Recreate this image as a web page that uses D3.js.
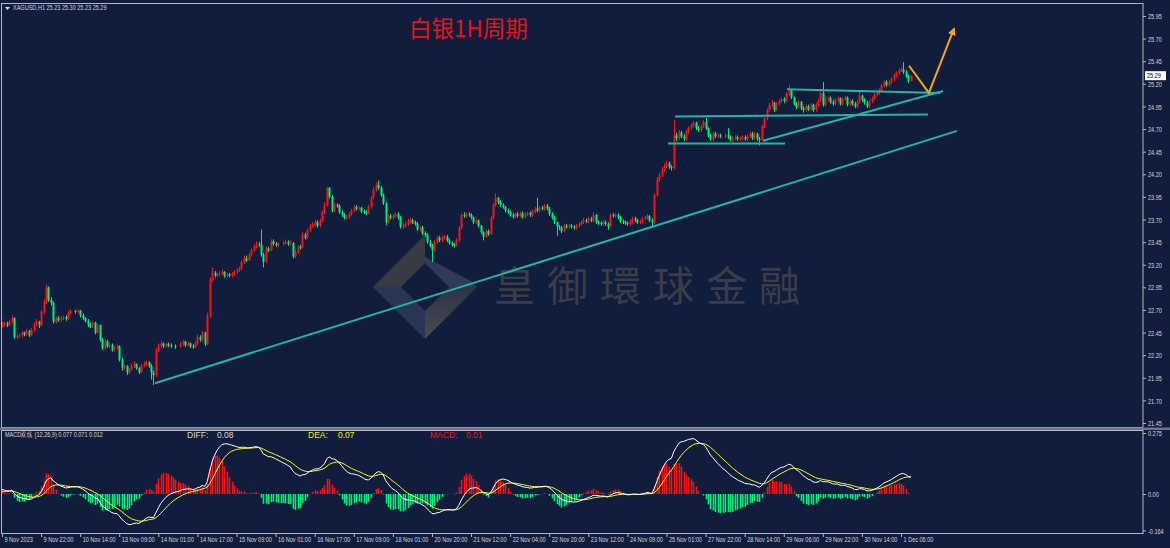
<!DOCTYPE html>
<html>
<head>
<meta charset="utf-8">
<script src="https://cdn.jsdelivr.net/npm/d3@7"></script>
<style>
  body { margin: 0; background: #101d3d; }
  svg { display: block; }
  .small { font-family: 'Liberation Sans', Arial, sans-serif; font-size: 7.5px; fill: #d8d8d8;
           transform-box: fill-box; transform-origin: 0 50%; transform: scaleX(0.74); }
</style>
</head>
<body>
<svg id="chart" width="1170" height="548"></svg>
<script>
// XAGUSD H1, 9 Nov 2023 -> 1 Dec 2023
const symbol = 'XAGUSD,H1';
const firstOpen = 22.52;

const closes = [
  22.54,22.55,22.53,22.57,22.61,22.40,22.41,22.42,22.45,22.43,
  22.47,22.42,22.48,22.54,22.57,22.53,22.68,22.79,22.95,22.81,
  22.78,22.57,22.61,22.59,22.61,22.62,22.60,22.67,22.69,22.69,
  22.68,22.69,22.64,22.61,22.58,22.53,22.52,22.56,22.45,22.53,
  22.37,22.28,22.35,22.30,22.31,22.26,22.28,22.30,22.15,22.06,
  22.08,22.01,22.04,22.08,22.10,22.06,22.01,22.09,22.10,22.12,
  22.08,22.01,21.98,22.26,22.30,22.33,22.30,22.32,22.31,22.30,
  22.30,22.29,22.29,22.32,22.35,22.31,22.33,22.30,22.29,22.33,
  22.40,22.37,22.45,22.32,22.64,23.03,23.11,23.08,23.09,23.10,
  23.12,23.08,23.09,23.08,23.10,23.12,23.14,23.16,23.23,23.27,
  23.25,23.31,23.36,23.40,23.43,23.42,23.31,23.23,23.38,23.36,
  23.46,23.43,23.42,23.43,23.43,23.44,23.45,23.43,23.44,23.29,
  23.34,23.40,23.39,23.53,23.50,23.58,23.63,23.64,23.67,23.63,
  23.69,23.78,23.86,24.05,23.95,23.80,23.86,23.85,23.78,23.75,
  23.72,23.73,23.76,23.80,23.84,23.82,23.83,23.79,23.78,23.77,
  23.84,23.94,24.03,24.08,24.05,23.97,23.88,23.67,23.74,23.72,
  23.74,23.76,23.72,23.62,23.63,23.65,23.68,23.69,23.67,23.65,
  23.59,23.61,23.55,23.53,23.45,23.41,23.36,23.45,23.50,23.47,
  23.50,23.51,23.47,23.44,23.42,23.41,23.47,23.61,23.75,23.74,
  23.76,23.75,23.72,23.67,23.69,23.63,23.56,23.51,23.57,23.54,
  23.72,23.86,23.94,23.89,23.86,23.84,23.80,23.78,23.75,23.73,
  23.76,23.74,23.77,23.73,23.76,23.77,23.75,23.79,23.82,23.80,
  23.83,23.82,23.85,23.82,23.76,23.72,23.67,23.62,23.61,23.57,
  23.63,23.62,23.63,23.62,23.61,23.63,23.65,23.67,23.69,23.68,
  23.71,23.69,23.75,23.67,23.66,23.65,23.67,23.65,23.62,23.75,
  23.74,23.75,23.72,23.68,23.67,23.66,23.65,23.68,23.71,23.69,
  23.67,23.68,23.71,23.72,23.74,23.69,23.67,23.97,24.14,24.19,
  24.25,24.29,24.32,24.28,24.27,24.63,24.60,24.66,24.62,24.59,
  24.67,24.71,24.74,24.77,24.71,24.69,24.73,24.78,24.71,24.63,
  24.59,24.65,24.62,24.63,24.62,24.62,24.63,24.61,24.58,24.60,
  24.61,24.59,24.60,24.61,24.59,24.62,24.65,24.60,24.65,24.59,
  24.58,24.73,24.82,24.91,24.97,24.99,24.91,24.98,25.01,25.03,
  25.01,25.09,25.13,25.05,24.98,24.94,25.00,24.93,24.91,24.95,
  24.92,24.97,24.91,24.97,25.02,25.10,24.97,25.03,25.04,25.00,
  24.98,25.02,25.04,24.98,25.03,25.05,24.97,25.01,24.98,24.95,
  25.00,25.07,25.02,24.99,24.95,25.01,25.04,25.08,25.10,25.13,
  25.18,25.22,25.19,25.22,25.25,25.29,25.32,25.35,25.36,25.33,
  25.28,25.23,25.29
];

const highs = [
  22.57,22.57,22.57,22.59,22.64,22.62,22.43,22.44,22.47,22.46,
  22.49,22.48,22.50,22.56,22.60,22.58,22.70,22.82,22.98,22.96,
  22.84,22.79,22.63,22.63,22.63,22.64,22.64,22.69,22.71,22.71,
  22.70,22.71,22.70,22.66,22.62,22.60,22.56,22.58,22.57,22.55,
  22.54,22.39,22.37,22.37,22.34,22.33,22.30,22.32,22.31,22.17,
  22.10,22.09,22.06,22.11,22.13,22.11,22.07,22.11,22.13,22.14,
  22.13,22.10,22.03,22.28,22.33,22.36,22.34,22.34,22.34,22.33,
  22.32,22.32,22.31,22.35,22.37,22.36,22.35,22.34,22.32,22.35,
  22.43,22.42,22.47,22.46,22.67,23.06,23.17,23.13,23.11,23.13,
  23.15,23.13,23.11,23.11,23.12,23.14,23.16,23.18,23.25,23.30,
  23.30,23.33,23.38,23.42,23.46,23.45,23.59,23.33,23.40,23.40,
  23.48,23.48,23.45,23.45,23.45,23.46,23.48,23.47,23.47,23.45,
  23.36,23.42,23.42,23.56,23.55,23.60,23.65,23.67,23.70,23.69,
  23.71,23.80,23.89,24.06,24.06,23.97,23.89,23.88,23.87,23.80,
  23.77,23.75,23.78,23.82,23.86,23.86,23.85,23.84,23.81,23.80,
  23.86,23.96,24.06,24.11,24.13,24.07,23.99,23.89,23.76,23.76,
  23.76,23.78,23.78,23.74,23.66,23.68,23.71,23.72,23.71,23.69,
  23.67,23.63,23.63,23.57,23.55,23.47,23.43,23.47,23.52,23.52,
  23.52,23.53,23.53,23.49,23.46,23.44,23.49,23.63,23.77,23.78,
  23.78,23.78,23.77,23.73,23.71,23.70,23.64,23.57,23.59,23.59,
  23.74,23.88,23.99,23.95,23.91,23.88,23.85,23.82,23.80,23.77,
  23.78,23.78,23.79,23.79,23.78,23.79,23.79,23.81,23.84,23.94,
  23.85,23.85,23.87,23.87,23.84,23.78,23.74,23.68,23.64,23.63,
  23.65,23.65,23.65,23.65,23.64,23.65,23.67,23.69,23.72,23.71,
  23.73,23.73,23.78,23.76,23.69,23.68,23.69,23.69,23.67,23.77,
  23.77,23.77,23.77,23.74,23.70,23.69,23.68,23.70,23.73,23.73,
  23.71,23.70,23.73,23.74,23.76,23.75,23.71,23.99,24.17,24.22,
  24.28,24.32,24.35,24.34,24.30,24.80,24.66,24.69,24.68,24.64,
  24.69,24.73,24.76,24.79,24.78,24.73,24.75,24.80,24.82,24.72,
  24.65,24.67,24.67,24.65,24.65,24.64,24.65,24.71,24.63,24.62,
  24.63,24.63,24.62,24.63,24.63,24.64,24.67,24.67,24.67,24.66,
  24.61,24.75,24.84,24.93,24.99,25.02,25.00,25.00,25.03,25.05,
  25.05,25.11,25.19,25.14,25.06,25.00,25.02,25.01,24.95,24.97,
  24.97,24.99,24.98,24.99,25.04,25.12,25.22,25.05,25.06,25.06,
  25.02,25.04,25.06,25.05,25.05,25.07,25.06,25.03,25.03,25.00,
  25.02,25.11,25.08,25.04,25.01,25.03,25.06,25.10,25.12,25.15,
  25.20,25.24,25.24,25.24,25.27,25.31,25.34,25.37,25.39,25.44,
  25.35,25.30,25.30
];

const lows = [
  22.50,22.52,22.51,22.52,22.55,22.38,22.38,22.39,22.40,22.41,
  22.42,22.40,22.41,22.46,22.52,22.50,22.52,22.66,22.77,22.79,
  22.75,22.55,22.55,22.57,22.57,22.59,22.58,22.59,22.65,22.67,
  22.66,22.66,22.62,22.59,22.56,22.51,22.50,22.50,22.43,22.44,
  22.35,22.26,22.26,22.28,22.28,22.24,22.24,22.26,22.13,22.03,
  22.04,21.98,21.99,22.03,22.06,22.04,21.99,22.00,22.07,22.08,
  22.06,21.93,21.87,21.96,22.24,22.28,22.28,22.28,22.29,22.28,
  22.28,22.27,22.27,22.28,22.30,22.29,22.29,22.28,22.27,22.28,
  22.31,22.35,22.35,22.30,22.31,22.62,23.01,23.06,23.06,23.07,
  23.08,23.06,23.06,23.06,23.06,23.08,23.10,23.12,23.14,23.21,
  23.23,23.24,23.29,23.34,23.38,23.40,23.29,23.17,23.22,23.34,
  23.35,23.41,23.40,23.40,23.41,23.41,23.42,23.41,23.41,23.27,
  23.27,23.32,23.37,23.38,23.48,23.48,23.56,23.61,23.62,23.61,
  23.61,23.67,23.76,23.84,23.93,23.78,23.78,23.83,23.76,23.73,
  23.70,23.70,23.71,23.74,23.78,23.80,23.80,23.77,23.76,23.75,
  23.76,23.82,23.92,24.01,24.03,23.95,23.86,23.64,23.66,23.70,
  23.70,23.72,23.70,23.60,23.60,23.61,23.63,23.66,23.65,23.63,
  23.57,23.57,23.53,23.51,23.43,23.39,23.23,23.34,23.43,23.45,
  23.45,23.48,23.45,23.42,23.40,23.39,23.40,23.45,23.59,23.72,
  23.72,23.73,23.70,23.65,23.65,23.61,23.54,23.47,23.50,23.52,
  23.53,23.70,23.84,23.87,23.84,23.82,23.78,23.76,23.73,23.71,
  23.71,23.72,23.72,23.71,23.71,23.74,23.73,23.73,23.77,23.78,
  23.78,23.80,23.80,23.80,23.74,23.70,23.65,23.52,23.58,23.55,
  23.56,23.60,23.60,23.60,23.59,23.59,23.61,23.63,23.65,23.66,
  23.66,23.67,23.67,23.65,23.64,23.63,23.63,23.63,23.59,23.61,
  23.72,23.72,23.70,23.66,23.65,23.64,23.63,23.63,23.66,23.67,
  23.65,23.65,23.66,23.69,23.70,23.67,23.61,23.65,23.95,24.12,
  24.17,24.23,24.27,24.26,24.24,24.25,24.57,24.58,24.60,24.57,
  24.57,24.65,24.69,24.72,24.69,24.67,24.67,24.71,24.69,24.61,
  24.57,24.57,24.60,24.60,24.60,24.60,24.60,24.59,24.56,24.56,
  24.58,24.57,24.57,24.58,24.57,24.57,24.60,24.58,24.58,24.57,
  24.52,24.57,24.71,24.80,24.89,24.95,24.89,24.90,24.96,24.99,
  24.99,25.00,25.07,25.03,24.96,24.92,24.93,24.91,24.88,24.89,
  24.90,24.90,24.89,24.89,24.95,25.00,24.95,24.95,25.01,24.98,
  24.96,24.96,25.00,24.96,24.96,25.01,24.95,24.95,24.96,24.93,
  24.93,24.98,25.00,24.97,24.93,24.93,24.99,25.02,25.06,25.08,
  25.11,25.16,25.17,25.17,25.20,25.23,25.27,25.30,25.33,25.31,
  25.26,25.21,25.23
];

// time axis: one label every 16 bars
const timeLabels = [
  '9 Nov 2023', '9 Nov 22:00', '10 Nov 14:00', '13 Nov 09:00', '14 Nov 01:00',
  '14 Nov 17:00', '15 Nov 09:00', '16 Nov 01:00', '16 Nov 17:00', '17 Nov 09:00',
  '18 Nov 01:00', '20 Nov 20:00', '21 Nov 12:00', '22 Nov 04:00', '22 Nov 20:00',
  '23 Nov 12:00', '24 Nov 09:00', '25 Nov 01:00', '27 Nov 22:00', '28 Nov 14:00',
  '29 Nov 06:00', '29 Nov 22:00', '30 Nov 14:00', '1 Dec 06:00'
];
const labelStep = 16;

const priceTicks = [21.45, 21.70, 21.95, 22.20, 22.45, 22.70, 22.95, 23.20, 23.45,
  23.70, 23.95, 24.20, 24.45, 24.70, 24.95, 25.20, 25.45, 25.70, 25.95];
const macdTicks = [0.275, 0, -0.164];
const macdInit = { diff: 0.02, dea: 0.01 };
// values printed in the indicator header: DIFF, DEA, MACD
const macdHeader = [0.077, 0.071, 0.012];

// hand drawn annotations: [bar index, price]
const trendLines = [
  [[62.6, 21.89], [390.9, 24.68]],
  [[272.6, 24.54], [320.5, 24.54]],
  [[275.5, 24.84], [379.0, 24.86]],
  [[311.5, 24.57], [385.2, 25.12]],
  [[321.3, 25.14], [384.0, 25.10]]
];
const arrowPath = [[371.3, 25.40], [379.4, 25.10], [389.7, 25.81]];

const title = '白银1H周期';
const watermark = '皇御環球金融';

// ---------------------------------------------------------------
const W = 1170, H = 548;
const plotRight = 1143;
const mainTop = 3, mainBottom = 427;
const subTop = 430, subBottom = 533;

const UP = '#ff1010', DOWN = '#00f07a', FLAT = '#000000';

const bars = closes.map((c, i) => ({
  i: i,
  o: i === 0 ? firstOpen : closes[i - 1],
  h: highs[i],
  l: lows[i],
  c: c
}));

// MACD (12,26,9), histogram = 2 * (DIFF - DEA)
let ema12 = closes[0] + macdInit.diff, ema26 = closes[0], dea = macdInit.dea;
const macd = closes.map((c, i) => {
  if (i > 0) {
    ema12 = ema12 + (c - ema12) * 2 / 13;
    ema26 = ema26 + (c - ema26) * 2 / 27;
  }
  const diff = ema12 - ema26;
  if (i > 0) dea = dea + (diff - dea) * 2 / 10;
  return { i: i, diff: diff, dea: dea, hist: 2 * (diff - dea) };
});

const x = d3.scaleLinear().domain([0, closes.length - 1]).range([2, 2 + 2.443 * (closes.length - 1)]);
const y = d3.scaleLinear().domain([21.45, 25.95]).range([423, 16]);
const ym = d3.scaleLinear().domain([-0.164, 0.275]).range([530.4, 433]);

const svg = d3.select('#chart');

svg.append('rect').attr('width', W).attr('height', H).attr('fill', '#101d3d');

const defs = svg.append('defs');
defs.append('clipPath').attr('id', 'clip-main')
  .append('rect').attr('x', 2).attr('y', mainTop + 1).attr('width', plotRight - 3).attr('height', mainBottom - mainTop - 1);
defs.append('clipPath').attr('id', 'clip-sub')
  .append('rect').attr('x', 2).attr('y', subTop + 1).attr('width', plotRight - 3).attr('height', subBottom - subTop - 1);
const grad = defs.append('linearGradient').attr('id', 'wm-grad')
  .attr('x1', 0).attr('y1', 0).attr('x2', 0).attr('y2', 1);
grad.append('stop').attr('offset', 0).attr('stop-color', '#2e3346');
grad.append('stop').attr('offset', 1).attr('stop-color', '#4a4a4e');

// watermark logo + name
const wm = svg.append('g').attr('class', 'watermark');
const cx = 425, cy = 287, R = 52, r = 24;
const bands = [
  { pts: [[cx - R, cy], [cx, cy - R], [cx, cy - r], [cx - r, cy]], fill: '#393b44' },
  { pts: [[cx, cy - r - 6], [cx + R - 6, cy - 6], [cx + R, cy], [cx + r, cy], [cx, cy - r]], fill: '#2f3a58' },
  { pts: [[cx + R, cy], [cx, cy + R], [cx, cy + r], [cx + r, cy]], fill: 'url(#wm-grad)' },
  { pts: [[cx - R, cy], [cx, cy + R], [cx, cy + r], [cx - r, cy]], fill: '#2b3656' }
];
wm.selectAll('polygon').data(bands).enter().append('polygon')
  .attr('points', d => d.pts.map(p => p.join(',')).join(' '))
  .attr('fill', d => d.fill);
wm.append('text')
  .attr('x', 494).attr('y', 301)
  .attr('font-family', "'Noto Sans CJK TC', 'Noto Sans CJK SC', sans-serif")
  .attr('font-size', 41).attr('letter-spacing', 12)
  .attr('fill', '#3a3d48')
  .text(watermark);

// frames
svg.append('rect').attr('x', 1.5).attr('y', mainTop + 0.5).attr('width', plotRight - 1.5).attr('height', mainBottom - mainTop)
  .attr('fill', 'none').attr('stroke', '#b8b8b8');
svg.append('rect').attr('x', 0).attr('y', mainBottom + 0.5).attr('width', W).attr('height', subTop - mainBottom - 0.5)
  .attr('fill', '#6f7586');
svg.append('rect').attr('x', 1.5).attr('y', subTop + 0.5).attr('width', plotRight - 1.5).attr('height', subBottom - subTop)
  .attr('fill', 'none').attr('stroke', '#b8b8b8');

// candles
const candles = svg.append('g').attr('clip-path', 'url(#clip-main)')
  .selectAll('g.candle').data(bars).enter().append('g').attr('class', 'candle');
const colorOf = d => d.c > d.o ? UP : (d.c < d.o ? DOWN : FLAT);
candles.append('line')
  .attr('x1', d => Math.round(x(d.i)) + 0.5).attr('x2', d => Math.round(x(d.i)) + 0.5)
  .attr('y1', d => y(d.h)).attr('y2', d => y(d.l))
  .attr('stroke', colorOf).attr('stroke-width', 1);
candles.append('rect')
  .attr('x', d => Math.round(x(d.i)) - 0.5).attr('width', 2)
  .attr('y', d => y(Math.max(d.o, d.c)))
  .attr('height', d => Math.max(1, Math.abs(y(d.o) - y(d.c))))
  .attr('fill', colorOf);

// trend lines and arrow
const ann = svg.append('g').attr('clip-path', 'url(#clip-main)');
ann.selectAll('line.trend').data(trendLines).enter().append('line')
  .attr('class', 'trend')
  .attr('x1', d => x(d[0][0])).attr('y1', d => y(d[0][1]))
  .attr('x2', d => x(d[1][0])).attr('y2', d => y(d[1][1]))
  .attr('stroke', '#22b5a5').attr('stroke-width', 2);

defs.append('marker').attr('id', 'arrowhead')
  .attr('viewBox', '0 0 10 10').attr('refX', 8).attr('refY', 5)
  .attr('markerWidth', 4).attr('markerHeight', 4).attr('orient', 'auto')
  .append('path').attr('d', 'M0,0 L10,5 L0,10 z').attr('fill', '#f5a516');
ann.append('path')
  .attr('d', d3.line().x(d => x(d[0])).y(d => y(d[1]))(arrowPath))
  .attr('fill', 'none').attr('stroke', '#f5a516').attr('stroke-width', 2)
  .attr('marker-end', 'url(#arrowhead)');

// title
svg.append('text')
  .attr('x', 409).attr('y', 37)
  .attr('font-family', "'Noto Sans CJK SC', sans-serif")
  .attr('font-size', 22.5).attr('fill', '#e8121a')
  .text(title);

// header
const last = bars[bars.length - 1];
svg.append('path').attr('d', 'M5,7 L10,7 L7.5,10 z').attr('fill', '#e0e0e0');
svg.append('text').attr('class', 'small').attr('x', 13).attr('y', 10.5)
  .text(symbol + '  ' + [last.o, last.h, last.l, last.c].map(v => v.toFixed(2)).join(' '));

// price axis
const yAxis = svg.append('g').attr('transform', `translate(${plotRight},0)`)
  .call(d3.axisRight(y).tickValues(priceTicks).tickSize(3).tickFormat(d3.format('.2f')));
yAxis.select('.domain').remove();
yAxis.selectAll('line').attr('stroke', '#b8b8b8');
yAxis.selectAll('text').attr('class', 'small').attr('fill', null).attr('x', 5).attr('dy', '0.35em');

// last price marker
svg.append('rect').attr('x', 1145).attr('y', y(last.c) - 4.5).attr('width', 21).attr('height', 9).attr('fill', '#ffffff');
svg.append('text').attr('class', 'small').attr('x', 1147).attr('y', y(last.c) + 2.7).style('fill', '#000')
  .text(last.c.toFixed(2));

// MACD panel
const sub = svg.append('g').attr('clip-path', 'url(#clip-sub)');
sub.selectAll('line.hist').data(macd).enter().append('line')
  .attr('class', 'hist')
  .attr('x1', d => Math.round(x(d.i)) + 0.5).attr('x2', d => Math.round(x(d.i)) + 0.5)
  .attr('y1', ym(0)).attr('y2', d => ym(d.hist))
  .attr('stroke', d => d.hist >= 0 ? UP : DOWN).attr('stroke-width', 1.6);
sub.append('path').datum(macd)
  .attr('d', d3.line().x(d => x(d.i)).y(d => ym(d.dea)))
  .attr('fill', 'none').attr('stroke', '#ffff00').attr('stroke-width', 1);
sub.append('path').datum(macd)
  .attr('d', d3.line().x(d => x(d.i)).y(d => ym(d.diff)))
  .attr('fill', 'none').attr('stroke', '#ffffff').attr('stroke-width', 1);

svg.append('text').attr('class', 'small').attr('x', 5).attr('y', 437)
  .text('MACD双线 (12,26,9) ' + macdHeader.map(v => v.toFixed(3)).join(' '));
const legend = [
  { label: 'DIFF:', v: macdHeader[0], x: 187, gap: 30, color: '#d8d8d8' },
  { label: 'DEA:', v: macdHeader[1], x: 308, gap: 30, color: '#f0f000' },
  { label: 'MACD:', v: macdHeader[2], x: 430, gap: 36, color: '#e81818' }
];
const lg = svg.selectAll('g.legend').data(legend).enter().append('g').attr('class', 'legend');
lg.append('text').attr('x', d => d.x).attr('y', 438)
  .attr('font-family', "'Liberation Sans', Arial, sans-serif").attr('font-size', 8.5)
  .attr('fill', d => d.color).text(d => d.label);
lg.append('text').attr('x', d => d.x + d.gap).attr('y', 438)
  .attr('font-family', "'Liberation Sans', Arial, sans-serif").attr('font-size', 8.5)
  .attr('fill', d => d.color).text(d => d.v.toFixed(2));

const mAxis = svg.append('g').attr('transform', `translate(${plotRight},0)`)
  .call(d3.axisRight(ym).tickValues(macdTicks).tickSize(3)
    .tickFormat(d => d === 0 ? '0.00' : String(d)));
mAxis.select('.domain').remove();
mAxis.selectAll('line').attr('stroke', '#b8b8b8');
mAxis.selectAll('text').attr('class', 'small').attr('fill', null).attr('x', 5).attr('dy', '0.35em');

// time axis
const tickIdx = timeLabels.map((t, k) => k * labelStep);
const xAxis = svg.append('g').attr('transform', `translate(0,${subBottom})`)
  .call(d3.axisBottom(x).tickValues(tickIdx).tickSize(4).tickFormat((d, k) => timeLabels[k]));
xAxis.select('.domain').remove();
xAxis.selectAll('line').attr('stroke', '#b8b8b8');
xAxis.selectAll('text').attr('class', 'small').attr('fill', null)
  .attr('text-anchor', 'start').attr('x', 2).attr('y', 4).attr('dy', '0.71em');
</script>
</body>
</html>
